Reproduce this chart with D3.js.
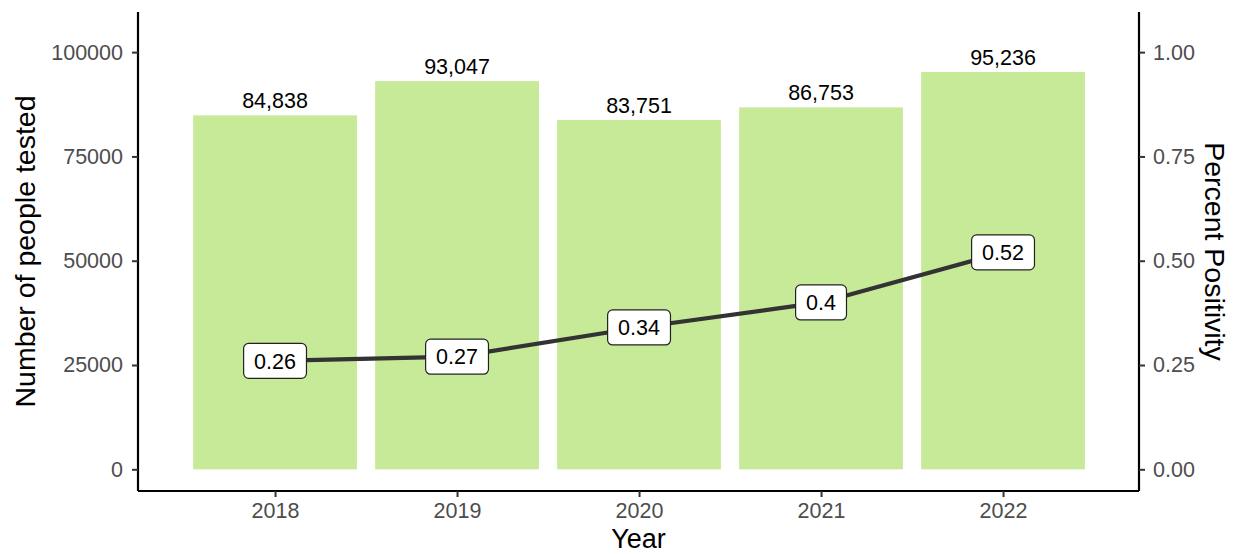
<!DOCTYPE html>
<html><head><meta charset="utf-8">
<script src="https://cdn.jsdelivr.net/npm/d3@7"></script>
<style>body{margin:0;background:#fff;} svg{display:block;font-family:"Liberation Sans",Arial,sans-serif;}</style>
</head><body>
<script>
const years = ["2018","2019","2020","2021","2022"];
const tested = [84838, 93047, 83751, 86753, 95236];
const positivity = [0.26, 0.27, 0.34, 0.40, 0.52];
const positivityLabels = ["0.26","0.27","0.34","0.4","0.52"];
const leftTicks = [0, 25000, 50000, 75000, 100000];
const rightTicks = [0, 0.25, 0.5, 0.75, 1.0];

const W = 1236, H = 554;
const svg = d3.select("body").append("svg").attr("width", W).attr("height", H);

const L = 138, R = 1139, T = 12, B = 491;
const x = d3.scaleLinear().domain([-0.753, 4.747]).range([L, R]);
const step = x(1) - x(0);
const y = d3.scaleLinear().domain([-5200, 109620]).range([B, T]);
const y2 = d3.scaleLinear().domain([-0.052, 1.0962]).range([B, T]);
const FS = 21.5;

// bars
svg.selectAll("rect.bar").data(years).join("rect")
  .attr("x", (d,i) => x(i) - step*0.45)
  .attr("width", step*0.9)
  .attr("y", (d,i) => y(tested[i]))
  .attr("height", (d,i) => y(0) - y(tested[i]))
  .attr("fill", "#c7ea98");

// bar labels
svg.selectAll("text.bl").data(years).join("text")
  .attr("x", (d,i) => x(i))
  .attr("y", (d,i) => y(tested[i]) - 7)
  .attr("text-anchor", "middle")
  .attr("font-size", FS)
  .attr("fill", "#000")
  .text((d,i) => d3.format(",")(tested[i]));

// line
const line = d3.line().x((d,i) => x(i)).y(d => y2(d));
svg.append("path").datum(positivity)
  .attr("d", line).attr("fill", "none")
  .attr("stroke", "#333333").attr("stroke-width", 4.2);

// label boxes
const lg = svg.selectAll("g.lab").data(positivity).join("g")
  .attr("transform", (d,i) => `translate(${x(i)},${y2(d)})`);
lg.each(function(d,i){
  const g = d3.select(this);
  const t = g.append("text").attr("text-anchor","middle").attr("dy","0.36em")
    .attr("font-size", FS).attr("fill","#000").text(positivityLabels[i]);
  const w = t.node().getComputedTextLength() + 21;
  g.insert("rect","text").attr("x", -w/2).attr("y", -17.5).attr("width", w).attr("height", 35)
    .attr("rx", 5).attr("fill","#fff").attr("stroke","#222").attr("stroke-width",1.2);
});

// axes
const axL = svg.append("g").attr("transform", `translate(${L},0)`)
  .call(d3.axisLeft(y).tickValues(leftTicks).tickSize(6).tickPadding(9).tickFormat(d3.format("d")));
const axR = svg.append("g").attr("transform", `translate(${R},0)`)
  .call(d3.axisRight(y2).tickValues(rightTicks).tickSize(6).tickPadding(8).tickFormat(d3.format(".2f")));
const axB = svg.append("g").attr("transform", `translate(0,${B})`)
  .call(d3.axisBottom(x).tickValues([0,1,2,3,4]).tickSize(6).tickPadding(6).tickFormat(i => years[i]));
[axL, axR, axB].forEach(a => {
  a.select(".domain").attr("stroke","#000").attr("stroke-width",2.2)
    .attr("d", a === axB ? `M${L},0H${R}` : `M0,${T}V${B}`);
  a.selectAll(".tick line").attr("stroke","#333").attr("stroke-width",2);
  a.selectAll(".tick text").attr("fill","#4d4d4d").attr("font-size",FS)
    .attr("font-family",'"Liberation Sans",Arial,sans-serif');
});

// titles
svg.append("text").attr("transform", `translate(35,${(T+B)/2}) rotate(-90)`)
  .attr("text-anchor","middle").attr("font-size",28.5).attr("fill","#000").text("Number of people tested");
svg.append("text").attr("transform", `translate(1205,${(T+B)/2}) rotate(90)`)
  .attr("text-anchor","middle").attr("font-size",28.5).attr("fill","#000").text("Percent Positivity");
svg.append("text").attr("x", (L+R)/2).attr("y", 548)
  .attr("text-anchor","middle").attr("font-size",27).attr("fill","#000").text("Year");
</script>
</body></html>
